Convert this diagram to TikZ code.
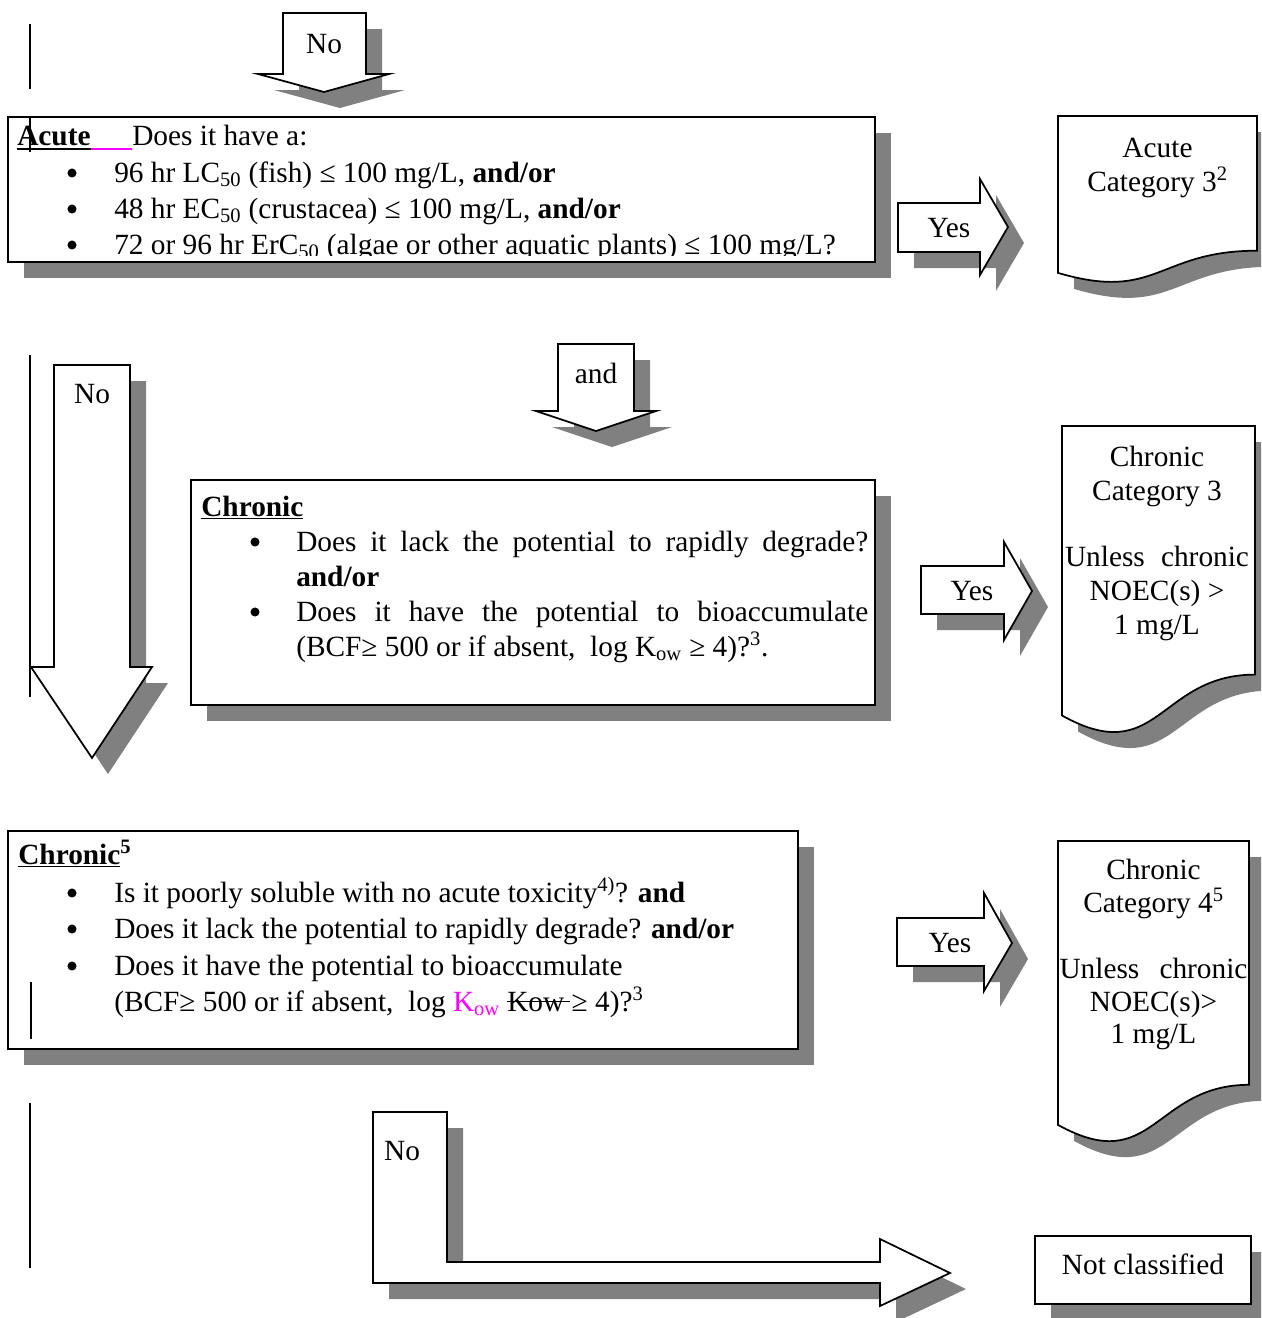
\documentclass[tikz,border=0pt]{standalone}
\usepackage{fontspec}
\setmainfont{Liberation Serif}
\definecolor{shadowgray}{RGB}{128,128,128}
\definecolor{pinkm}{RGB}{255,0,255}
\newcommand\ShadowShape[1]{\fill[shadowfill,shift={(16,16)}] #1;\filldraw[shapestyle] #1;}
\begin{document}
\begin{tikzpicture}[x=0.75pt,y=-0.75pt,
  shadowfill/.style={fill=shadowgray},
  shapestyle/.style={fill=white,draw=black,line width=1.3pt,line join=miter},
  txt/.style={anchor=base west,inner sep=0pt,font=\fontsize{22}{27}\selectfont},
  ctxt/.style={anchor=base,inner sep=0pt,font=\fontsize{22}{27}\selectfont},
  bul/.style={circle,fill=black,inner sep=0pt,minimum size=6.8pt},
  cursor/.style={line width=1.1pt},
  ul/.style={line width=1.8pt}]
\useasboundingbox (0,0) rectangle (1261,1318);
\clip (0,0) rectangle (1261,1318);

% ---- cursor lines at left margin
\draw[cursor] (30,24) -- (30,89);
\draw[cursor] (30,355) -- (30,697);
\draw[cursor] (30,1103) -- (30,1268);

% ---- top No arrow
\ShadowShape{(283,13) -- (366,13) -- (366,74) -- (389,74) -- (324,92) -- (258,74) -- (283,74) -- cycle}
\node[ctxt] (noTop) at (324,53) {No};

% ---- Acute box
\ShadowShape{(8,117) rectangle (875,262)}
\begin{scope}
\clip (8,117) rectangle (875,255);
\node[txt] (acuteT) at (17,145) {\textbf{Acute}};
\node[txt] (doesT) at (132,145) {Does it have a:};
\node[bul] (b11) at (72,173) {};
\node[txt] (a1) at (114,182) {96 hr LC\textsubscript{50} (fish) ≤ 100 mg/L, \textbf{and/or}};
\node[bul] (b12) at (72,209) {};
\node[txt] (a2) at (114,218) {48 hr EC\textsubscript{50} (crustacea) ≤ 100 mg/L, \textbf{and/or}};
\node[bul] (b13) at (72,245) {};
\node[txt] (a3) at (114,254) {72 or 96 hr ErC\textsubscript{50} (algae or other aquatic plants) ≤ 100 mg/L?};
\end{scope}
\draw[ul] ([yshift=-3pt]acuteT.base west) -- ([yshift=-3pt]acuteT.base east);
\draw[ul,pinkm] ([yshift=-3pt]acuteT.base east) -- ([yshift=-3pt]doesT.base west);
\draw[cursor] (30,118) -- (30,152);

% ---- Yes arrow 1
\ShadowShape{(898,203) -- (980,203) -- (980,179) -- (1008,227) -- (980,275) -- (980,252) -- (898,252) -- cycle}
\node[ctxt] (yes1) at (949,237) {Yes};

% ---- Acute Category 3 document
\ShadowShape{(1058,116) -- (1257,116) -- (1257,250.7) .. controls (1157.5,250.7) and (1157.5,302.1) .. (1058,272.9) -- cycle}
\node[ctxt] (acCat1) at (1157.5,157) {Acute};
\node[ctxt] (acCat2) at (1157.5,191) {Category 3\textsuperscript{2}};

% ---- big No arrow
\ShadowShape{(54,365) -- (130,365) -- (130,667) -- (152,667) -- (92,758) -- (31,667) -- (54,667) -- cycle}
\node[ctxt] (noBig) at (92,403) {No};

% ---- and arrow
\ShadowShape{(558,344) -- (634,344) -- (634,411) -- (656,411) -- (596,431) -- (536,411) -- (558,411) -- cycle}
\node[ctxt] (andT) at (596,383) {and};

% ---- Chronic box 1
\ShadowShape{(191,480) rectangle (875,705)}
\node[txt] (chr1) at (201,516) {\textbf{\underline{Chronic}}};
\node[bul] (b21) at (255,542) {};
\node[txt] (c11) at (296,551) {\makebox[429pt][s]{Does it lack the potential to rapidly degrade?}};
\node[txt] (c12) at (296,586) {\textbf{and/or}};
\node[bul] (b22) at (255,612) {};
\node[txt] (c13) at (296,621) {\makebox[429pt][s]{Does it have the potential to bioaccumulate}};
\node[txt] (c14) at (296,656) {(BCF≥ 500 or if absent,~ log K\textsubscript{ow} ≥ 4)?\textsuperscript{3}.};

% ---- Yes arrow 2
\ShadowShape{(921,566) -- (1004,566) -- (1004,542) -- (1032,591) -- (1004,640) -- (1004,614) -- (921,614) -- cycle}
\node[ctxt] (yes2) at (972,600) {Yes};

% ---- Chronic Category 3 document
\ShadowShape{(1062,426) -- (1255,426) -- (1255,674.6) .. controls (1158.5,674.6) and (1158.5,769.3) .. (1062,715.5) -- cycle}
\node[ctxt] (cc31) at (1157,466) {Chronic};
\node[ctxt] (cc32) at (1157,500) {Category 3};
\node[ctxt] (cc33) at (1157,566) {\makebox[138pt][s]{Unless chronic}};
\node[ctxt] (cc34) at (1157,600) {NOEC(s) >};
\node[ctxt] (cc35) at (1157,634) {1 mg/L};

% ---- Chronic box 2
\ShadowShape{(8,831) rectangle (798,1049)}
\node[txt] (chr2) at (18,864) {\textbf{\underline{Chronic}\textsuperscript{5}}};
\node[bul] (b31) at (72,893) {};
\node[txt] (d1) at (114,902) {Is it poorly soluble with no acute toxicity\textsuperscript{4)}? \textbf{and}};
\node[bul] (b32) at (72,929) {};
\node[txt] (d2) at (114,938) {Does it lack the potential to rapidly degrade? \textbf{and/or}};
\node[bul] (b33) at (72,966) {};
\node[txt] (d3) at (114,975) {Does it have the potential to bioaccumulate};
\node[txt] (d4) at (114,1011) {(BCF≥ 500 or if absent,~ log \textcolor{pinkm}{K\textsubscript{ow}} \rlap{\rule[0.3em]{2.15em}{0.05em}}Kow\ ≥ 4)?\textsuperscript{3}};
\draw[cursor] (31,982) -- (31,1039);

% ---- Yes arrow 3
\ShadowShape{(897,918) -- (984,918) -- (984,893) -- (1012,943) -- (984,991) -- (984,966) -- (897,966) -- cycle}
\node[ctxt] (yes3) at (950,952) {Yes};

% ---- Chronic Category 4 document
\ShadowShape{(1058,841) -- (1249,841) -- (1249,1084.8) .. controls (1153.5,1084.8) and (1153.5,1177.7) .. (1058,1124.9) -- cycle}
\node[ctxt] (cc41) at (1153.5,879) {Chronic};
\node[ctxt] (cc42) at (1153.5,912) {Category 4\textsuperscript{5}};
\node[ctxt] (cc43) at (1153.5,978) {\makebox[141pt][s]{Unless chronic}};
\node[ctxt] (cc44) at (1153.5,1011) {NOEC(s)>};
\node[ctxt] (cc45) at (1153.5,1043) {1 mg/L};

% ---- bent No arrow
\ShadowShape{(373,1112) -- (447,1112) -- (447,1262) -- (880,1262) -- (880,1239) -- (950,1273) -- (880,1306) -- (880,1283) -- (373,1283) -- cycle}
\node[ctxt] (noBent) at (402,1160) {No};

% ---- Not classified
\ShadowShape{(1035,1236) rectangle (1251,1304)}
\node[ctxt] (notcl) at (1143,1274) {Not classified};
\end{tikzpicture}
\end{document}
